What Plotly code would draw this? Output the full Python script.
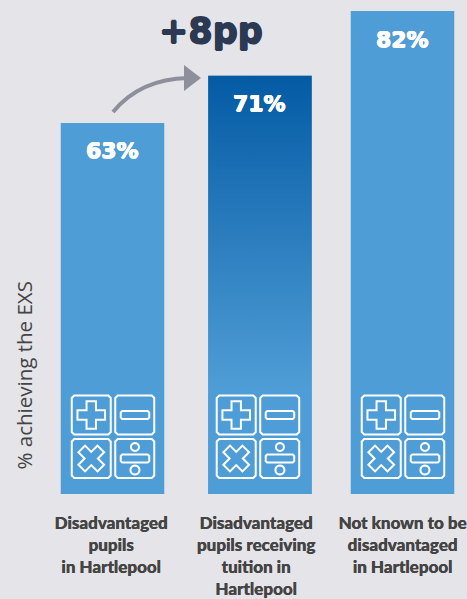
import plotly.graph_objects as go
import math

categories = ["Disadvantaged<br>pupils<br>in Hartlepool",
              "Disadvantaged<br>pupils receiving<br>tuition in<br>Hartlepool",
              "Not known to be<br>disadvantaged<br>in Hartlepool"]
values = [63, 71, 82]
value_labels = ["63%", "71%", "82%"]
uplift_label = "+8pp"
y_title = "% achieving the EXS"

W, H = 467, 599
PLOT_B = 494
UNIT = 145.0
X0 = 112.5
BG = "#e5e4e9"
LIGHT = "#4f9dd6"
DARK = "#045ba4"
TXT = "#444444"
centers = [0, 1.017, 2]
tick_positions = [-0.01, 0.99, 2]
icon_offsets = [11, 8.5, 11]
bar_w = 103.5 / UNIT
Y_TOP = 494 / 5.89


def px(x):
    return x / W


def py(y):
    return 1 - y / PLOT_B


def path(*pts, close=True):
    d = "M" + " L".join(f"{px(x):.5f},{py(y):.5f}" for x, y in pts)
    return d + (" Z" if close else "")


def rrect(x0, y0, x1, y1, r=2.5):
    p = [(x0 + r, y0), (x1 - r, y0), (x1, y0 + r), (x1, y1 - r),
         (x1 - r, y1), (x0 + r, y1), (x0, y1 - r), (x0, y0 + r)]
    return path(*p)


def circle(cx, cy, r):
    return path(*[(cx + r * math.cos(i * math.pi / 12), cy + r * math.sin(i * math.pi / 12)) for i in range(24)])


def cross(cx, cy, a, b, diag=False):
    pts = [(-b, -a), (b, -a), (b, -b), (a, -b), (a, b), (b, b), (b, a), (-b, a), (-b, b), (-a, b), (-a, -b), (-b, -b)]
    if diag:
        s = 0.7071
        pts = [((x - y) * s, (x + y) * s) for x, y in pts]
    return path(*[(cx + x, cy + y) for x, y in pts])


def thicken(color, d):
    return f"{d}px 0 0 {color}, -{d}px 0 0 {color}, 0 {d}px 0 {color}, 0 -{d}px 0 {color}"


fig = go.Figure()
fig.add_bar(x=centers, y=values, width=bar_w, marker=dict(color=LIGHT, line=dict(width=0)),
            text=value_labels, textposition="none", hoverinfo="skip")

# gradient face of the second bar
l, r = centers[1] - bar_w / 2, centers[1] + bar_w / 2
fig.add_scatter(x=[l, r, r, l, l], y=[0, 0, values[1], values[1], 0], mode="lines",
                line=dict(width=0), fill="toself",
                fillgradient=dict(type="vertical", start=values[1], stop=18,
                                  colorscale=[[0, DARK], [1, LIGHT]]),
                hoverinfo="skip", showlegend=False)

shapes = []
line_w = dict(color="white", width=2)
for c, off in zip(centers, icon_offsets):
    left = X0 + c * UNIT - bar_w * UNIT / 2 + off
    top = 395.5
    ds = [rrect(left, top, left + 39, top + 39),
          rrect(left + 43.5, top, left + 82.5, top + 39),
          rrect(left, top + 43.5, left + 39, top + 82.5),
          rrect(left + 43.5, top + 43.5, left + 82.5, top + 82.5),
          cross(left + 19.5, top + 19.5, 13.8, 4.7),
          rrect(left + 49, top + 15.5, left + 77.5, top + 23.5, 1.5),
          cross(left + 19.5, top + 63, 13.5, 4.7, diag=True),
          rrect(left + 49, top + 59, left + 77.5, top + 67, 1.5),
          circle(left + 63.2, top + 51.5, 4),
          circle(left + 63.2, top + 74.5, 4.5)]
    for d in ds:
        shapes.append(dict(type="path", xref="paper", yref="paper", path=d, line=line_w))

# uplift arrow
curve = f"M{px(113):.5f},{py(112):.5f} Q{px(140):.5f},{py(79):.5f} {px(188):.5f},{py(78):.5f}"
shapes.append(dict(type="path", xref="paper", yref="paper", path=curve, line=dict(color="#8f8f9c", width=4)))
shapes.append(dict(type="path", xref="paper", yref="paper", path=path((184, 65), (201, 78), (184, 91)),
                   fillcolor="#8f8f9c", line=dict(width=0)))

ann = []
for c, v, t in zip(centers, values, value_labels):
    ann.append(dict(x=c, y=v, yshift=-28, text=t, showarrow=False, yanchor="middle",
                    font=dict(family="DejaVu Sans", size=22, color="white", weight="bold",
                              shadow=thicken("#ffffff", 0.5))))
ann.append(dict(xref="paper", yref="paper", x=px(211), y=py(31), text=uplift_label, showarrow=False,
                xanchor="center", yanchor="middle",
                font=dict(family="DejaVu Sans", size=35, color="#2b3a52", weight="bold",
                          shadow=thicken("#2b3a52", 0.7))))
ann.append(dict(xref="paper", yref="paper", x=px(23.5), y=py(376), text=y_title, textangle=-90, showarrow=False,
                xanchor="center", yanchor="middle",
                font=dict(family="Open Sans", size=20.5, color=TXT)))

fig.update_layout(
    width=W, height=H, autosize=False,
    margin=dict(l=0, r=0, t=0, b=H - PLOT_B),
    paper_bgcolor=BG, plot_bgcolor=BG, showlegend=False,
    shapes=shapes, annotations=ann,
    xaxis=dict(range=[-X0 / UNIT, (W - X0) / UNIT], tickmode="array", tickvals=tick_positions, ticktext=categories,
               showgrid=False, zeroline=False, showline=False, ticks="",
               ticklabelstandoff=17, tickangle=0,
               tickfont=dict(family="Lato", size=17, color=TXT, weight=900,
                             shadow="0.3px 0 0 #444444")),
    yaxis=dict(range=[0, Y_TOP], visible=False),
)
fig.write_html("out.html", config=dict(displayModeBar=False),
               post_script="document.body.style.margin='0';document.documentElement.style.background='#e5e4e9';")
